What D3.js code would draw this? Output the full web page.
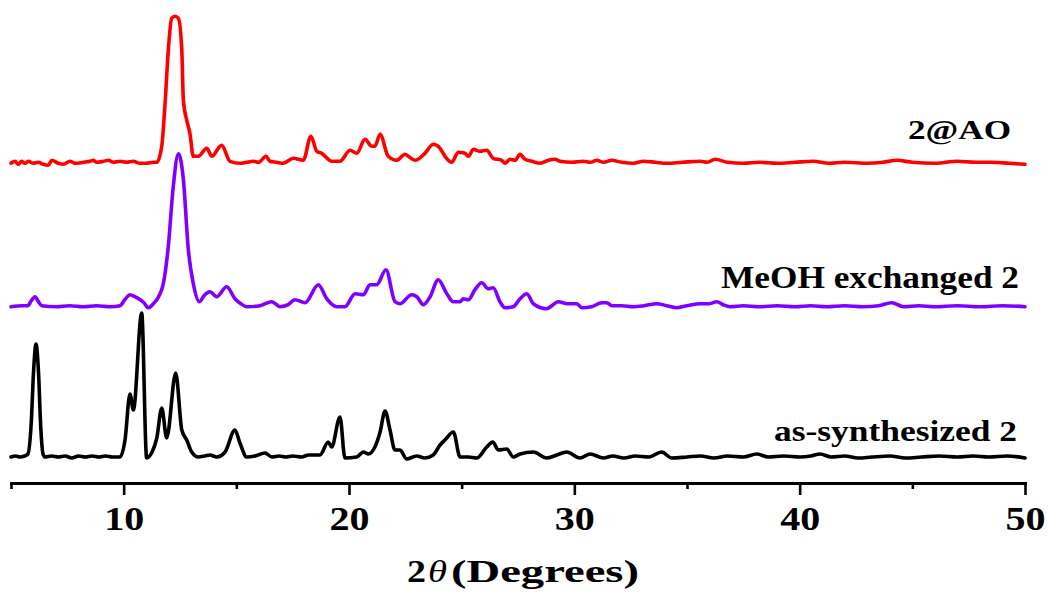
<!DOCTYPE html>
<html>
<head>
<meta charset="utf-8">
<script src="https://cdn.jsdelivr.net/npm/d3@7/dist/d3.min.js"></script>
<style>
  html, body { margin: 0; padding: 0; background: #fff; }
  svg { display: block; }
  text.lbl { font-family: "Times New Roman", "Liberation Serif", Tinos, Times, serif; font-weight: bold; fill: #000; }
</style>
</head>
<body>
<svg id="chart" width="1048" height="601"></svg>
<script>
// PXRD patterns: [2θ (deg), intensity above the pattern's own baseline]
const asSynthesized = [
  [5.0,0],[5.2,1],[5.4,0],[5.6,1],[5.75,3],[5.9,35],[6.0,85],[6.11,113],[6.22,85],[6.32,30],[6.42,3],[6.5,0],
  [6.8,1],[7.1,0],[7.4,1],[7.7,-1],[8.0,1],[8.3,0],[8.6,1],[8.9,0],[9.2,1],[9.5,0],[9.84,0],
  [10.06,17],[10.28,63],[10.43,47],[10.80,144],[11.02,-1],[11.24,4],[11.47,19],[11.69,49],[11.91,19],
  [12.31,84],[12.58,27],[12.80,17],[13.02,5],[13.31,0],[13.6,1],[13.83,2],[14.13,0],[14.5,5],[14.94,27],
  [15.16,14],[15.46,0],[15.83,1],[16.27,4],[16.58,0],[16.9,1],[17.2,0],[17.5,1],[17.9,0],[18.2,2],[18.71,2],
  [19.08,15],[19.23,10],[19.60,40],[19.82,-1],[20.34,0],[20.64,5],[20.86,3],[21.15,10],[21.38,25],[21.60,46],
  [21.82,27],[22.04,7],[22.26,7],[22.56,-2],[23.00,1],[23.37,-1],[23.74,2],[24.04,12],[24.26,17],[24.63,25],
  [24.93,0],[25.3,0],[25.67,-1],[26.11,10],[26.38,15],[26.63,7],[27.00,8],[27.29,0],[27.59,3],[28.18,5],
  [28.77,-1],[29.22,2],[29.66,5],[30.25,-1],[30.70,3],[31.29,-1],[31.7,1],[32.2,-1],[32.7,1],[33.3,0],
  [33.88,5],[34.32,-1],[35.0,0],[35.6,1],[36.2,-1],[36.8,1],[37.5,0],[38.1,3],[38.6,0],[39.3,1],[40.0,0],
  [40.5,1],[40.9,3],[41.4,0],[42.0,1],[42.6,-1],[43.2,0],[44.0,1],[44.7,-1],[45.4,0],[46.2,1],[47.0,0],
  [47.7,1],[48.4,0],[49.2,1],[50.0,-1]
];

const meohExchanged = [
  [5.0,0],[5.5,1],[5.75,1],[5.9,6],[6.07,10],[6.22,5],[6.36,1],[7.0,0],[7.6,1],[8.2,0],[8.8,1],[9.4,0],
  [9.84,1],[10.05,7],[10.28,12],[10.5,10],[10.73,7],[10.9,4],[11.09,-1],[11.32,3],[11.55,10],[11.76,23],
  [11.98,60],[12.20,120],[12.43,153],[12.65,127],[12.87,57],[13.09,23],[13.36,5],[13.6,12],[13.83,15],
  [14.13,10],[14.57,20],[14.94,8],[15.2,3],[15.46,0],[16.05,1],[16.57,5],[16.94,0],[17.3,2],[17.60,7],
  [18.05,4],[18.64,22],[19.01,8],[19.45,0],[19.82,0],[20.27,13],[20.64,12],[20.93,22],[21.23,22],
  [21.64,37],[22.04,5],[22.26,3],[22.78,12],[23.01,10],[23.30,2],[23.60,10],[23.96,27],[24.34,13],
  [24.63,5],[24.93,5],[25.07,8],[25.30,7],[25.59,17],[25.89,24],[26.18,18],[26.40,19],[26.70,5],
  [26.92,-1],[27.29,0],[27.59,8],[27.89,13],[28.18,3],[28.77,-2],[29.29,5],[29.7,3],[30.11,3],[30.33,-1],
  [30.77,0],[31.22,4],[31.44,4],[31.66,1],[32.1,1],[32.62,0],[33.1,1],[33.66,3],[34.1,1],[34.54,-1],
  [35.0,1],[35.58,3],[36.0,3],[36.32,5],[36.6,2],[36.91,0],[37.5,1],[38.2,0],[39.0,1],[39.8,0],[40.5,1],
  [41.2,0],[42.0,1],[42.8,0],[43.5,1],[44.09,4],[44.6,0],[45.3,1],[46.0,0],[47.0,1],[48.0,0],[49.0,1],[50.0,0]
];

const aoLoaded = [
  [5.0,0],[5.18,2],[5.32,-1],[5.47,2],[5.62,0],[5.77,2],[5.99,0],[6.21,1],[6.43,-1],[6.66,-2],[6.81,3],
  [7.10,0],[7.32,-1],[7.62,2],[7.84,0],[8.21,1],[8.51,2],[8.65,3],[8.80,1],[9.10,2],[9.32,3],[9.54,1],
  [9.84,2],[10.13,1],[10.43,2],[10.73,0],[11.02,0],[11.32,1],[11.47,1],[11.69,17],[11.83,57],[11.98,113],
  [12.13,145],[12.28,147],[12.43,145],[12.58,113],[12.65,63],[12.80,43],[12.94,30],[13.09,7],[13.31,7],
  [13.69,15],[13.91,7],[14.35,18],[14.72,2],[15.16,0],[15.45,1],[15.75,2],[15.98,1],[16.32,7],[16.49,2],
  [16.8,1],[17.08,0],[17.53,5],[17.97,3],[18.31,27],[18.57,12],[18.79,10],[19.23,2],[19.60,2],[20.05,13],
  [20.34,10],[20.71,24],[21.01,17],[21.15,17],[21.38,29],[21.74,7],[22.12,3],[22.49,9],[22.63,7],
  [22.93,3],[23.37,10],[23.74,19],[24.04,15],[24.26,7],[24.56,1],[24.85,11],[25.15,10],[25.30,7],
  [25.52,14],[25.81,12],[26.11,13],[26.40,5],[26.78,3],[26.92,0],[27.15,4],[27.37,3],[27.59,9],[27.81,4],
  [28.11,2],[28.48,0],[28.85,3],[29.14,4],[29.37,2],[29.9,1],[30.4,2],[30.7,1],[31.0,3],[31.3,1],[31.66,3],
  [32.1,1],[32.62,0],[33.06,2],[33.6,1],[34.10,0],[34.8,1],[35.58,2],[35.9,1],[36.25,4],[36.8,1],[37.5,0],
  [38.2,1],[39.0,0],[39.8,1],[40.6,2],[41.3,0],[42.0,1],[43.0,0],[43.7,1],[44.3,3],[45.0,1],[46.0,0],
  [47.0,2],[47.8,1],[48.5,1],[49.3,0],[50.0,-1]
];

const seriesNames = ["as-synthesized 2", "MeOH exchanged 2", "2@AO"];
const seriesColors = ["#000000", "#8000ff", "#ff0000"];
const seriesOffsets = [26, 176.3, 319.7];

const majorTicks = [10, 20, 30, 40, 50];
const minorTicks = [5, 15, 25, 35, 45];
const xTitle = ["2", "θ", "(Degrees)"];

const svg = d3.select("#chart");

const x = d3.scaleLinear().domain([5, 50]).range([11, 1025]);
const y = d3.scaleLinear().domain([0, 483]).range([483, 0]);

const line = d3.line()
  .x(d => x(d[0]))
  .y(d => y(d[1]))
  .curve(d3.curveMonotoneX);

const patterns = [asSynthesized, meohExchanged, aoLoaded];
patterns.forEach((data, i) => {
  const shifted = data.map(d => [d[0], d[1] + seriesOffsets[i]]);
  svg.append("path")
    .datum(shifted)
    .attr("fill", "none")
    .attr("stroke", seriesColors[i])
    .attr("stroke-width", 3.6)
    .attr("stroke-linejoin", "round")
    .attr("stroke-linecap", "round")
    .attr("d", line);
});

// Series labels
const labelPos = [
  { x: 774, y: 441, len: 243, size: 29 },
  { x: 721, y: 288, len: 298, size: 31 },
  { x: 908, y: 139, len: 103, size: 28 }
];
seriesNames.forEach((name, i) => {
  const p = labelPos[i];
  svg.append("text")
    .attr("class", "lbl")
    .attr("x", p.x)
    .attr("y", p.y)
    .attr("font-size", p.size)
    .attr("textLength", p.len)
    .attr("lengthAdjust", "spacingAndGlyphs")
    .text(name);
});

// Bottom axis: major ticks with labels, minor ticks without
const axisY = 483;
const gMinor = svg.append("g").attr("transform", `translate(0,${axisY})`)
  .call(d3.axisBottom(x).tickValues(minorTicks).tickSize(6).tickSizeOuter(0).tickFormat(""));
const gMajor = svg.append("g").attr("transform", `translate(0,${axisY})`)
  .call(d3.axisBottom(x).tickValues(majorTicks).tickSize(12).tickSizeOuter(0).tickFormat(d3.format("d")));

[gMinor, gMajor].forEach(g => {
  g.attr("font-family", null).attr("font-size", null);
  g.select(".domain").attr("stroke", "#000").attr("stroke-width", 3);
  g.selectAll(".tick line").attr("stroke", "#000").attr("stroke-width", 2.6);
});
gMajor.selectAll(".tick text")
  .attr("class", "lbl")
  .attr("font-size", 34)
  .attr("y", 47)
  .attr("dy", 0)
  .attr("textLength", 40)
  .attr("lengthAdjust", "spacingAndGlyphs")
  .attr("fill", "#000");
gMajor.select(".domain").attr("stroke-linecap", "square");

// Axis title
const title = svg.append("g");
title.append("text").attr("class", "lbl").attr("x", 407).attr("y", 582)
  .attr("font-size", 32).attr("textLength", 19).attr("lengthAdjust", "spacingAndGlyphs").text(xTitle[0]);
title.append("text").attr("class", "lbl").attr("x", 428).attr("y", 582)
  .attr("font-size", 32).style("font-style", "italic").style("font-weight", "normal")
  .attr("textLength", 19).attr("lengthAdjust", "spacingAndGlyphs").text(xTitle[1]);
title.append("text").attr("class", "lbl").attr("x", 451).attr("y", 582)
  .attr("font-size", 32).attr("textLength", 188).attr("lengthAdjust", "spacingAndGlyphs").text(xTitle[2]);
</script>
</body>
</html>
